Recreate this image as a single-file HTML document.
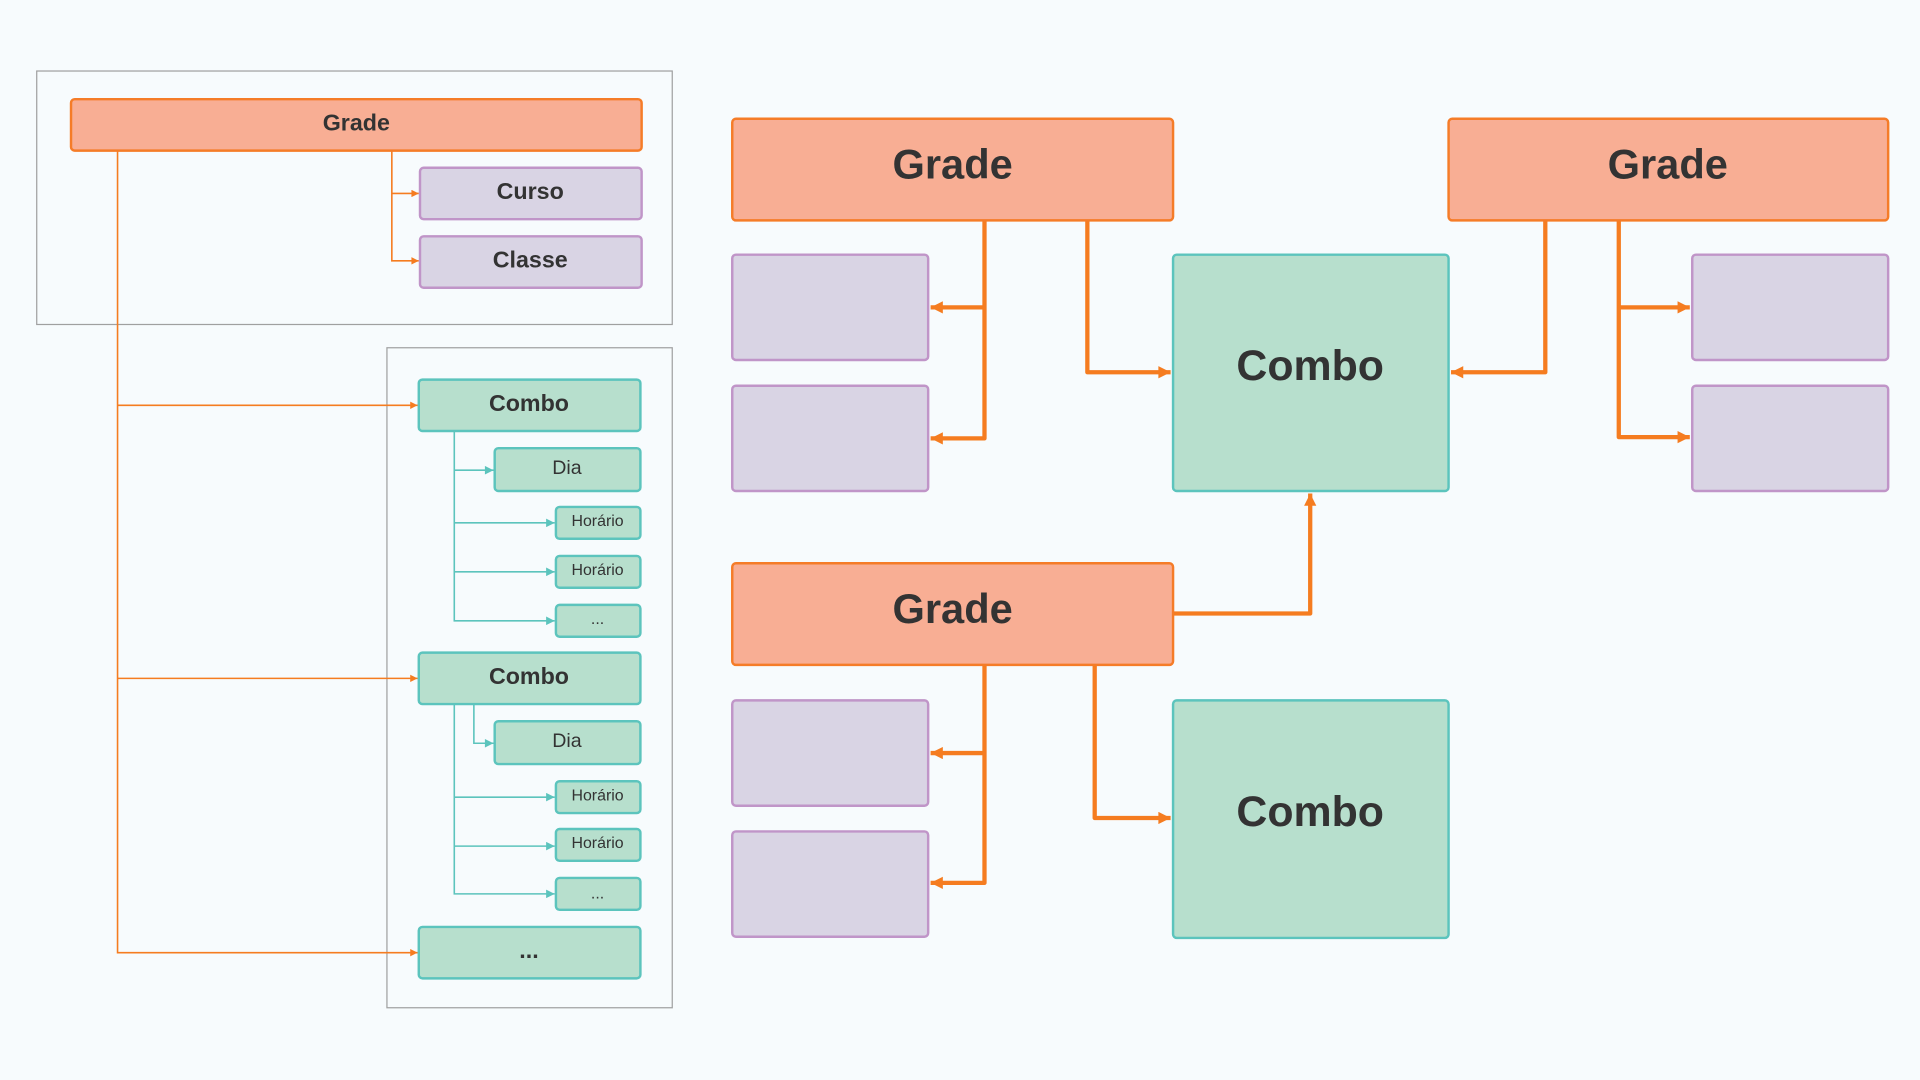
<!DOCTYPE html>
<html><head><meta charset="utf-8"><style>
html,body{margin:0;padding:0;background:#f7fbfd;}
svg{display:block;}
text{font-family:"Liberation Sans",sans-serif;fill:#333;text-anchor:middle;dominant-baseline:central;}
</style></head><body>
<svg width="1920" height="1080" viewBox="0 0 1568 882" xmlns="http://www.w3.org/2000/svg">
<defs>
<marker id="ao" viewBox="0 0 10 10" refX="10" refY="5" markerWidth="9" markerHeight="6" orient="auto" markerUnits="userSpaceOnUse"><path d="M0,0L10,5L0,10z" fill="#f57c20"/></marker>
<marker id="ao2" viewBox="0 0 10 10" refX="10" refY="5" markerWidth="15" markerHeight="10" orient="auto" markerUnits="userSpaceOnUse"><path d="M0,0L10,5L0,10z" fill="#f57c20"/></marker>
<marker id="at" viewBox="0 0 10 10" refX="10" refY="5" markerWidth="10" markerHeight="7" orient="auto" markerUnits="userSpaceOnUse"><path d="M0,0L10,5L0,10z" fill="#5cc4bd"/></marker>
</defs>
<rect width="1568" height="882" fill="#f7fbfd"/>
<rect x="30" y="58" width="519" height="207" fill="none" stroke="#a0a0a0" stroke-width="1"/>
<rect x="316" y="284" width="233" height="539" fill="none" stroke="#a0a0a0" stroke-width="1"/>
<g fill="none" stroke="#f57c20" stroke-width="1.3">
<path d="M320,123V213H342" marker-end="url(#ao)"/><path d="M320,158H342" marker-end="url(#ao)"/>
<path d="M96,123V778H341" marker-end="url(#ao)"/><path d="M96,331H341" marker-end="url(#ao)"/><path d="M96,554H341" marker-end="url(#ao)"/>
</g>
<g fill="none" stroke="#5cc4bd" stroke-width="1.3">
<path d="M371,352V507H453" marker-end="url(#at)"/><path d="M371,384H403" marker-end="url(#at)"/><path d="M371,427H453" marker-end="url(#at)"/><path d="M371,467H453" marker-end="url(#at)"/>
<path d="M371,575V730H453" marker-end="url(#at)"/><path d="M387,575V607H403" marker-end="url(#at)"/><path d="M371,651H453" marker-end="url(#at)"/><path d="M371,691H453" marker-end="url(#at)"/>
</g>
<g stroke-width="2">
<rect x="58" y="81" width="466" height="42" rx="3" fill="#f8ae94" stroke="#f57c28"/>
<rect x="343" y="137" width="181" height="42" rx="3" fill="#d9d4e4" stroke="#c095c8"/>
<rect x="343" y="193" width="181" height="42" rx="3" fill="#d9d4e4" stroke="#c095c8"/>
<g fill="#b7dfcd" stroke="#5cc4bd">
<rect x="342" y="310" width="181" height="42" rx="3"/>
<rect x="404" y="366" width="119" height="35" rx="3"/>
<rect x="454" y="414" width="69" height="26" rx="3"/>
<rect x="454" y="454" width="69" height="26" rx="3"/>
<rect x="454" y="494" width="69" height="26" rx="3"/>
<rect x="342" y="533" width="181" height="42" rx="3"/>
<rect x="404" y="589" width="119" height="35" rx="3"/>
<rect x="454" y="638" width="69" height="26" rx="3"/>
<rect x="454" y="677" width="69" height="26" rx="3"/>
<rect x="454" y="717" width="69" height="26" rx="3"/>
<rect x="342" y="757" width="181" height="42" rx="3"/>
</g>
</g>
<g font-weight="bold" font-size="19">
<text x="291" y="100">Grade</text><text x="433" y="156">Curso</text><text x="433" y="212">Classe</text>
<text x="432" y="329">Combo</text><text x="432" y="552">Combo</text><text x="432" y="776">...</text>
</g>
<g font-size="16"><text x="463" y="382">Dia</text><text x="463" y="605">Dia</text></g>
<g font-size="13"><text x="488" y="426">Horário</text><text x="488" y="466">Horário</text><text x="488" y="506">...</text>
<text x="488" y="650">Horário</text><text x="488" y="689">Horário</text><text x="488" y="730">...</text></g>
<g fill="none" stroke="#f57c20" stroke-width="3.5" stroke-linejoin="round">
<path d="M804,180V358H760" marker-end="url(#ao2)"/><path d="M804,251H760" marker-end="url(#ao2)"/>
<path d="M888,180V304H956" marker-end="url(#ao2)"/>
<path d="M1262,180V304H1185" marker-end="url(#ao2)"/>
<path d="M1322,180V357H1380" marker-end="url(#ao2)"/><path d="M1322,251H1380" marker-end="url(#ao2)"/>
<path d="M958,501H1070V403" marker-end="url(#ao2)"/>
<path d="M804,543V721H760" marker-end="url(#ao2)"/><path d="M804,615H760" marker-end="url(#ao2)"/>
<path d="M894,543V668H956" marker-end="url(#ao2)"/>
</g>
<g stroke-width="2">
<g fill="#f8ae94" stroke="#f57c28">
<rect x="598" y="97" width="360" height="83" rx="3"/>
<rect x="1183" y="97" width="359" height="83" rx="3"/>
<rect x="598" y="460" width="360" height="83" rx="3"/>
</g>
<g fill="#d9d4e4" stroke="#c095c8">
<rect x="598" y="208" width="160" height="86" rx="3"/>
<rect x="598" y="315" width="160" height="86" rx="3"/>
<rect x="1382" y="208" width="160" height="86" rx="3"/>
<rect x="1382" y="315" width="160" height="86" rx="3"/>
<rect x="598" y="572" width="160" height="86" rx="3"/>
<rect x="598" y="679" width="160" height="86" rx="3"/>
</g>
<g fill="#b7dfcd" stroke="#5cc4bd">
<rect x="958" y="208" width="225" height="193" rx="3"/>
<rect x="958" y="572" width="225" height="194" rx="3"/>
</g>
</g>
<g font-weight="bold" font-size="34">
<text x="778" y="134">Grade</text><text x="1362" y="134">Grade</text><text x="778" y="497">Grade</text>
<text x="1070" y="299" font-size="35">Combo</text><text x="1070" y="663" font-size="35">Combo</text>
</g>
</svg>
</body></html>
